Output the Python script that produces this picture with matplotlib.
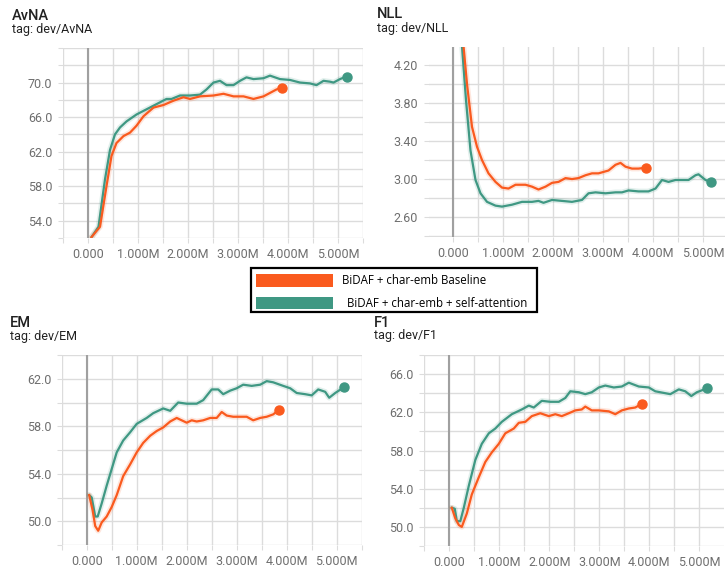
import numpy as np
import matplotlib
matplotlib.use('Agg')
import matplotlib.pyplot as plt
from matplotlib.patches import Rectangle
from matplotlib.ticker import MultipleLocator, FuncFormatter

ORANGE = '#fa5a1e'
TEAL = '#3f9883'

# --- data (steps in millions) ---
avna_base_x = [0.07, 0.24, 0.37, 0.47, 0.57, 0.71, 0.84, 0.97, 1.11, 1.31, 1.51, 1.71, 1.91, 2.04, 2.24,
               2.51, 2.71, 2.91, 3.11, 3.31, 3.51, 3.64, 3.77, 3.87]
avna_base_y = [52.1, 53.3, 58.0, 61.5, 63.0, 63.8, 64.2, 65.0, 66.1, 67.1, 67.4, 67.9, 68.3, 68.1, 68.4,
               68.5, 68.7, 68.4, 68.4, 68.1, 68.4, 68.8, 69.2, 69.4]
avna_att_x = [0.07, 0.21, 0.34, 0.44, 0.54, 0.64, 0.77, 0.97, 1.17, 1.37, 1.57, 1.67, 1.84, 2.04, 2.24,
              2.37, 2.51, 2.64, 2.77, 2.91, 3.04, 3.17, 3.31, 3.51, 3.64, 3.84, 4.04, 4.24, 4.44, 4.57,
              4.71, 4.84, 4.91, 5.04, 5.17]
avna_att_y = [52.1, 53.3, 58.8, 62.2, 64.0, 64.8, 65.5, 66.3, 66.9, 67.5, 68.1, 68.1, 68.5, 68.5, 68.6,
              69.2, 70.0, 70.2, 69.7, 69.7, 70.2, 70.6, 70.4, 70.5, 70.8, 70.4, 70.3, 70.0, 69.9, 69.7,
              70.2, 70.1, 70.0, 70.4, 70.7]

nll_base_x = [0.21, 0.28, 0.38, 0.48, 0.58, 0.71, 0.85, 0.98, 1.11, 1.25, 1.45, 1.58, 1.71, 1.85, 1.98,
              2.11, 2.25, 2.38, 2.51, 2.65, 2.78, 2.91, 3.11, 3.25, 3.35, 3.45, 3.58, 3.71, 3.86]
nll_base_y = [4.40, 4.00, 3.55, 3.34, 3.20, 3.06, 2.97, 2.91, 2.90, 2.94, 2.94, 2.92, 2.89, 2.92, 2.96,
              2.97, 3.01, 3.00, 3.01, 3.04, 3.06, 3.06, 3.09, 3.15, 3.17, 3.13, 3.11, 3.11, 3.12]
nll_att_x = [0.18, 0.26, 0.35, 0.45, 0.55, 0.68, 0.85, 0.98, 1.18, 1.38, 1.58, 1.71, 1.81, 1.98, 2.18,
             2.38, 2.58, 2.71, 2.85, 3.05, 3.25, 3.38, 3.51, 3.71, 3.91, 4.05, 4.18, 4.31, 4.45, 4.58,
             4.71, 4.85, 4.91, 4.98, 5.05, 5.15]
nll_att_y = [4.40, 3.83, 3.30, 2.99, 2.85, 2.76, 2.72, 2.71, 2.73, 2.76, 2.76, 2.77, 2.75, 2.78, 2.77,
             2.76, 2.78, 2.85, 2.86, 2.85, 2.86, 2.86, 2.88, 2.87, 2.87, 2.90, 2.99, 2.97, 2.99, 2.99,
             2.99, 3.04, 3.05, 3.02, 2.99, 2.97]

em_base_x = [0.05, 0.12, 0.17, 0.23, 0.30, 0.40, 0.50, 0.60, 0.73, 0.87, 1.00, 1.13, 1.27, 1.40, 1.53,
             1.67, 1.80, 1.90, 2.00, 2.10, 2.20, 2.33, 2.47, 2.60, 2.70, 2.80, 2.93, 3.07, 3.20, 3.33,
             3.47, 3.60, 3.73, 3.85]
em_base_y = [52.2, 50.9, 49.6, 49.2, 49.9, 50.4, 51.2, 52.2, 53.8, 54.8, 55.8, 56.6, 57.2, 57.6, 57.9,
             58.4, 58.7, 58.5, 58.3, 58.5, 58.4, 58.5, 58.7, 58.7, 59.2, 58.9, 58.8, 58.8, 58.8, 58.5,
             58.7, 58.8, 59.0, 59.4]
em_att_x = [0.05, 0.10, 0.17, 0.22, 0.30, 0.40, 0.50, 0.60, 0.73, 0.87, 1.00, 1.20, 1.33, 1.53, 1.67,
            1.83, 2.00, 2.20, 2.33, 2.50, 2.63, 2.73, 2.87, 3.00, 3.13, 3.30, 3.47, 3.60, 3.73, 3.93,
            4.07, 4.20, 4.37, 4.50, 4.63, 4.77, 4.85, 4.97, 5.15]
em_att_y = [52.2, 52.0, 50.4, 50.4, 51.5, 53.0, 54.4, 55.8, 56.8, 57.5, 58.2, 58.7, 59.1, 59.5, 59.3,
            60.0, 59.9, 59.9, 60.2, 61.1, 61.1, 60.7, 61.0, 61.2, 61.5, 61.4, 61.5, 61.8, 61.7, 61.4,
            61.2, 60.8, 60.7, 60.6, 61.1, 60.9, 60.4, 60.8, 61.3]

f1_base_x = [0.05, 0.12, 0.19, 0.25, 0.35, 0.45, 0.59, 0.72, 0.85, 0.99, 1.12, 1.29, 1.39, 1.52, 1.65,
             1.82, 1.99, 2.12, 2.25, 2.39, 2.52, 2.65, 2.72, 2.85, 2.99, 3.19, 3.32, 3.45, 3.59, 3.72,
             3.85]
f1_base_y = [52.0, 50.9, 50.2, 50.0, 51.4, 53.4, 55.2, 56.8, 57.8, 58.7, 59.8, 60.3, 60.9, 61.0, 61.6,
             61.9, 61.6, 61.8, 61.6, 61.9, 62.2, 62.3, 62.6, 62.2, 62.2, 62.1, 61.8, 62.2, 62.4, 62.5,
             62.9]
f1_att_x = [0.05, 0.11, 0.15, 0.22, 0.29, 0.39, 0.52, 0.65, 0.79, 0.92, 1.05, 1.25, 1.45, 1.59, 1.69,
            1.85, 2.02, 2.19, 2.32, 2.42, 2.59, 2.72, 2.85, 2.99, 3.12, 3.29, 3.45, 3.59, 3.79, 3.99,
            4.12, 4.32, 4.42, 4.59, 4.72, 4.84, 4.95, 5.15]
f1_att_y = [52.0, 51.9, 50.6, 50.6, 52.0, 54.3, 57.0, 58.7, 59.8, 60.3, 61.0, 61.8, 62.3, 62.7, 62.5,
            63.2, 63.1, 63.1, 63.5, 64.2, 64.1, 63.9, 64.1, 64.6, 64.8, 64.6, 64.7, 65.1, 64.7, 64.6,
            64.2, 64.0, 63.9, 64.4, 64.2, 63.7, 64.1, 64.5]

legend_labels = ['BiDAF + char-emb Baseline', 'BiDAF + char-emb + self-attention']

W, H = 725, 571
fig = plt.figure(figsize=(W / 100, H / 100), dpi=100)


def px_axes(left, zero, top, bottom):
    # axes placed in pixel units; 50 px per 1M step
    width = 300
    ax = fig.add_axes([left / W, 1 - bottom / H, width / W, (bottom - top) / H])
    x_left = (left - zero) / 50 * 1e6
    ax.set_xlim(x_left, x_left + width / 50 * 1e6)
    return ax


def style(ax, ylim, ystep, labels, fmt):
    ax.set_ylim(*ylim)
    ax.xaxis.set_major_locator(MultipleLocator(0.5e6))
    ax.yaxis.set_major_locator(MultipleLocator(ystep))

    def xf(v, pos):
        if abs(v) < 1:
            return '0.000'
        if abs(v / 1e6 - round(v / 1e6)) < 1e-6 and v > 0:
            return '%d.000M' % round(v / 1e6)
        return ''

    def yf(v, pos):
        for l in labels:
            if abs(v - l) < 1e-6:
                return fmt % v
        return ''

    ax.xaxis.set_major_formatter(FuncFormatter(xf))
    ax.yaxis.set_major_formatter(FuncFormatter(yf))
    for s in ax.spines.values():
        s.set_visible(False)
    ax.grid(True, color='#dcdcdc', lw=1)
    ax.tick_params(axis='both', length=3.6, color='#dcdcdc', labelcolor='#6e6e6e', labelsize=9)
    ax.tick_params(axis='x', pad=3.5)
    ax.tick_params(axis='y', pad=4)
    for t in ax.get_xticklabels() + ax.get_yticklabels():
        t.set_fontfamily('Roboto')
    ax.axvline(0, color='#a0a0a0', lw=1.5, zorder=1)
    ax.set_axisbelow(True)


def curves(ax, bx, by, tx, ty):
    for x, y, c in [(tx, ty, TEAL), (bx, by, ORANGE)]:
        xs = np.array(x) * 1e6
        ax.plot(xs, y, color=c, lw=4, alpha=0.15, solid_capstyle='round', zorder=2)
        ax.plot(xs, y, color=c, lw=1.6, zorder=3)
        ax.plot(xs[-1], y[-1], 'o', color=c, ms=6.5, zorder=4)


ax1 = px_axes(63, 88, 48, 238)
style(ax1, (52, 74), 2, [54, 58, 62, 66, 70], '%.1f')
curves(ax1, avna_base_x, avna_base_y, avna_att_x, avna_att_y)

ax2 = px_axes(428.5, 453, 47, 237)
style(ax2, (2.39, 4.39), 0.2, [2.6, 3.0, 3.4, 3.8, 4.2], '%.2f')
curves(ax2, nll_base_x, nll_base_y, nll_att_x, nll_att_y)

ax3 = px_axes(61.7, 86.7, 355, 545)
style(ax3, (48, 64), 2, [50, 54, 58, 62], '%.1f')
curves(ax3, em_base_x, em_base_y, em_att_x, em_att_y)

ax4 = px_axes(424, 449.3, 355, 546)
style(ax4, (48, 68), 2, [50, 54, 58, 62, 66], '%.1f')
curves(ax4, f1_base_x, f1_base_y, f1_att_x, f1_att_y)

# titles
for name, x, yb, yt in [('AvNA', 12, 20, 33.5), ('NLL', 377, 18.5, 31.7),
                        ('EM', 10, 327.3, 340), ('F1', 374, 326.7, 339.3)]:
    fig.text(x / W, 1 - yb / H, name, fontsize=10.5, fontfamily='Roboto', fontweight='medium',
             color='#212121', va='baseline')
    fig.text(x / W, 1 - yt / H, 'tag: dev/' + name, fontsize=9, fontfamily='Roboto',
             color='#212121', va='baseline')

# legend box
fig.patches.append(Rectangle((251 / W, 1 - 312 / H), 286 / W, 44 / H, transform=fig.transFigure,
                             facecolor='white', edgecolor='black', lw=1.6, zorder=5))
for (c, lab, ytop, tx) in [(ORANGE, legend_labels[0], 274, 342), (TEAL, legend_labels[1], 297, 347)]:
    fig.patches.append(Rectangle((256 / W, 1 - (ytop + 12.5) / H), 77 / W, 12.5 / H,
                                 transform=fig.transFigure, facecolor=c, edgecolor='none', zorder=6))
    fig.text(tx / W, 1 - (ytop + 6.5) / H, lab, fontsize=8.3, fontfamily='Open Sans',
             color='black', va='center', zorder=7)

fig.savefig('out.png', dpi=100)
